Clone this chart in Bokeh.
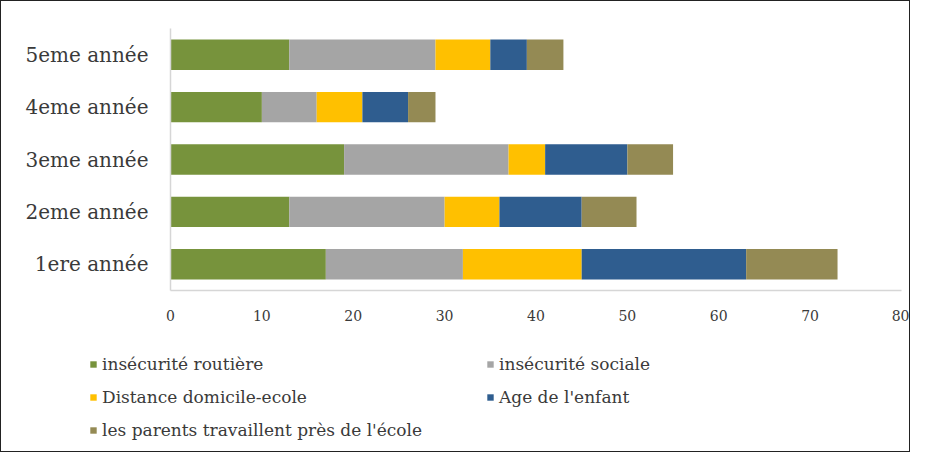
from bokeh.plotting import figure
from bokeh.layouts import column
from bokeh.models import Legend, LegendItem, FactorRange, Range1d, ColumnDataSource, FixedTicker
from bokeh.embed import file_html
from bokeh.resources import INLINE

annees = ["1ere année", "2eme année", "3eme année", "4eme année", "5eme année"]
series = ["insécurité routière", "insécurité sociale", "Distance domicile-ecole",
          "Age de l'enfant", "les parents travaillent près de l'école"]
routiere = [17, 13, 19, 10, 13]
sociale = [15, 17, 18, 6, 16]
distance = [13, 6, 4, 5, 6]
age = [18, 9, 9, 5, 4]
parents = [10, 6, 5, 3, 4]
x_ticks = [0, 10, 20, 30, 40, 50, 60, 70, 80]
colors = ["#77933C", "#A5A5A5", "#FFC000", "#2F5D8F", "#948A54"]

keys = ["routiere", "sociale", "distance", "age", "parents"]
src = ColumnDataSource(dict(annee=annees, routiere=routiere, sociale=sociale,
                            distance=distance, age=age, parents=parents))

FONT = "DejaVu Serif"
TXT = "#3a3a3a"

p = figure(width=908, height=340, y_range=FactorRange(*annees, range_padding=0),
           x_range=Range1d(0, 80), output_backend="svg", toolbar_location=None,
           min_border_left=169, min_border_right=8, min_border_top=27,
           min_border_bottom=51)
p.frame_align = False

rs = p.hbar_stack(keys, y="annee", height=0.58, color=colors, source=src, line_width=0)

p.xgrid.grid_line_color = None
p.ygrid.grid_line_color = None
p.outline_line_color = None

p.xaxis.ticker = FixedTicker(ticks=x_ticks)
for ax in (p.xaxis[0], p.yaxis[0]):
    ax.axis_line_color = "#D6D6D6"
    ax.axis_line_width = 1.5
    ax.major_tick_line_color = None
    ax.minor_tick_line_color = None
    ax.major_tick_out = 0
    ax.major_tick_in = 0
    ax.minor_tick_out = 0
    ax.minor_tick_in = 0
    ax.major_label_text_font = FONT
    ax.major_label_text_color = TXT
p.xaxis.major_label_text_font_size = "14px"
p.yaxis.major_label_text_font_size = "20px"
p.xaxis.major_label_standoff = 19
p.yaxis.major_label_standoff = 22

# legend area: a second figure under the chart, not frame-aligned with it
lp = figure(width=908, height=110, x_range=Range1d(0, 1), y_range=Range1d(0, 1),
            output_backend="svg", toolbar_location=None,
            min_border=0, min_border_left=0, min_border_right=0,
            min_border_top=0, min_border_bottom=0)
lp.frame_align = False
lp.axis.visible = False
lp.grid.grid_line_color = None
lp.outline_line_color = None

# zero-size swatch renderers, used only by the legend
swatches = [lp.hbar(y=[0], left=[0], right=[0], height=0, color=c, line_width=0)
            for c in colors]

def make_legend(idx, x, y):
    lg = Legend(items=[LegendItem(label=series[i], renderers=[swatches[i]]) for i in idx],
                location=(x, y), orientation="vertical",
                label_text_font=FONT, label_text_font_size="17px",
                label_text_color=TXT, glyph_width=8, glyph_height=8,
                label_standoff=5, spacing=13, label_height=20, padding=0,
                border_line_color=None, background_fill_alpha=0, margin=0)
    lp.add_layout(lg, "center")

make_legend([0, 2, 4], 88, 11)
make_legend([1, 3], 485, 44)

layout = column(p, lp, spacing=0)
layout.styles = {"border": "1px solid #222"}

open("out.html", "w").write(file_html(layout, INLINE))
